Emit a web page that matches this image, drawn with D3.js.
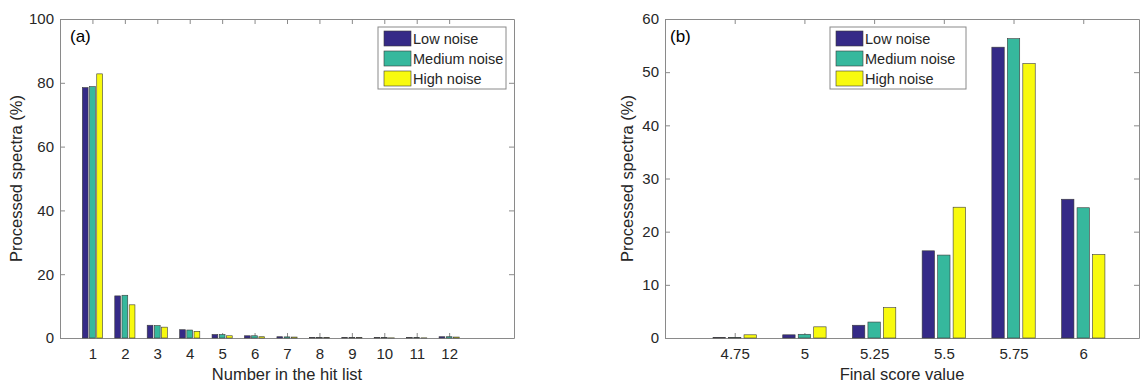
<!DOCTYPE html>
<html>
<head>
<meta charset="utf-8">
<script src="https://cdn.jsdelivr.net/npm/d3@7"></script>
<style>
  body { margin: 0; background: #fff; }
  svg { font-family: "Liberation Sans", Arial, sans-serif; }
</style>
</head>
<body>
<svg id="chart" width="1145" height="383"></svg>
<script>
// series names + colours
const seriesNames = ["Low noise", "Medium noise", "High noise"];
const seriesColors = ["#352A87", "#36B89D", "#F8FA0E"];

// panel (a): position in the hit list
const hitRanks = [1, 2, 3, 4, 5, 6, 7, 8, 9, 10, 11, 12];
const hitLow = [78.5, 13.2, 4.0, 2.6, 1.1, 0.7, 0.4, 0.15, 0.1, 0.1, 0.1, 0.4];
const hitMed = [78.8, 13.4, 3.9, 2.5, 1.1, 0.7, 0.35, 0.1, 0.1, 0.1, 0.1, 0.4];
const hitHigh = [82.8, 10.4, 3.4, 2.1, 0.7, 0.4, 0.3, 0.1, 0.1, 0.05, 0.05, 0.3];
const hitYTicks = [0, 20, 40, 60, 80, 100];

// panel (b): final score value
const scoreValues = [4.75, 5, 5.25, 5.5, 5.75, 6];
const scoreLow = [0.1, 0.6, 2.4, 16.4, 54.7, 26.1];
const scoreMed = [0.1, 0.7, 3.0, 15.6, 56.3, 24.5];
const scoreHigh = [0.6, 2.1, 5.7, 24.6, 51.6, 15.7];
const scoreYTicks = [0, 10, 20, 30, 40, 50, 60];

const svg = d3.select("#chart");
const axisColor = "#8a8a8a";
const textColor = "#262626";

function drawPanel(cfg) {
  const g = svg.append("g");

  const x = d3.scaleLinear().domain(cfg.xDomain).range([cfg.left, cfg.right]);
  const y = d3.scaleLinear().domain(cfg.yDomain).range([cfg.bottom, cfg.top]);

  // MATLAB style grouped bars: group = n/(n+1.5) of a category step
  const step = x(cfg.cats[1]) - x(cfg.cats[0]);
  const groupW = step * 3 / 4.5;
  const inner = d3.scaleBand()
    .domain(seriesNames)
    .range([-groupW / 2, groupW / 2])
    .paddingInner(0.2)
    .paddingOuter(0.1);

  // axes, ticks pointing inward
  const bottom = g.append("g")
    .attr("transform", "translate(0," + cfg.bottom + ")")
    .call(d3.axisBottom(x).tickValues(cfg.cats).tickFormat(cfg.fmt).tickSizeInner(-5).tickSizeOuter(0).tickPadding(10));
  const top = g.append("g")
    .attr("transform", "translate(0," + cfg.top + ")")
    .call(d3.axisTop(x).tickValues(cfg.cats).tickFormat("").tickSizeInner(-5).tickSizeOuter(0));
  const leftAx = g.append("g")
    .attr("transform", "translate(" + cfg.left + ",0)")
    .call(d3.axisLeft(y).tickValues(cfg.yTicks).tickSizeInner(-5).tickSizeOuter(0).tickPadding(6));
  const rightAx = g.append("g")
    .attr("transform", "translate(" + cfg.right + ",0)")
    .call(d3.axisRight(y).tickValues(cfg.yTicks).tickFormat("").tickSizeInner(-5).tickSizeOuter(0));

  [bottom, top, leftAx, rightAx].forEach(a => {
    a.selectAll("path, line").attr("stroke", axisColor);
    a.selectAll("text").attr("fill", textColor).style("font-size", "15px").style("font-family", null);
  });

  // bars
  cfg.series.forEach((vals, si) => {
    g.selectAll(null)
      .data(cfg.cats.map((c, i) => ({ c: c, v: vals[i] })))
      .enter()
      .append("rect")
      .attr("x", d => x(d.c) + inner(seriesNames[si]))
      .attr("y", d => y(d.v))
      .attr("width", inner.bandwidth())
      .attr("height", d => y(0) - y(d.v))
      .attr("fill", seriesColors[si])
      .attr("stroke", "#3a3a3a")
      .attr("stroke-width", 0.6);
  });

  // labels
  g.append("text")
    .attr("x", (cfg.left + cfg.right) / 2)
    .attr("y", 380)
    .attr("text-anchor", "middle")
    .attr("fill", textColor)
    .style("font-size", "16.5px")
    .text(cfg.xLabel);

  g.append("text")
    .attr("transform", "translate(" + cfg.yLabelX + "," + (cfg.top + cfg.bottom) / 2 + ") rotate(-90)")
    .attr("text-anchor", "middle")
    .attr("fill", textColor)
    .style("font-size", "16.5px")
    .text("Processed spectra (%)");

  g.append("text")
    .attr("x", cfg.tagX)
    .attr("y", 42)
    .attr("fill", "#000")
    .style("font-size", "17px")
    .text(cfg.tag);

  // legend
  const lg = g.append("g").attr("transform", "translate(" + cfg.legX + "," + cfg.legY + ")");
  lg.append("rect")
    .attr("width", cfg.legW).attr("height", 62)
    .attr("fill", "#fff").attr("stroke", axisColor).attr("stroke-width", 1);
  seriesNames.forEach((name, i) => {
    lg.append("rect")
      .attr("x", 6).attr("y", 4 + i * 20)
      .attr("width", 27).attr("height", 15)
      .attr("fill", seriesColors[i])
      .attr("stroke", "#3a3a3a").attr("stroke-width", 0.6);
    lg.append("text")
      .attr("x", 35).attr("y", 11.5 + i * 20)
      .attr("dy", "0.35em")
      .attr("fill", textColor)
      .style("font-size", "14.5px")
      .text(name);
  });
}

drawPanel({
  left: 60, right: 514, top: 19, bottom: 338,
  xDomain: [0, 14], yDomain: [0, 100],
  cats: hitRanks, yTicks: hitYTicks, fmt: d => d,
  series: [hitLow, hitMed, hitHigh],
  xLabel: "Number in the hit list", yLabelX: 22,
  tag: "(a)", tagX: 70,
  legX: 378, legY: 27, legW: 128
});

drawPanel({
  left: 665, right: 1139, top: 19, bottom: 338,
  xDomain: [4.5, 6.2], yDomain: [0, 60],
  cats: scoreValues, yTicks: scoreYTicks, fmt: d => d,
  series: [scoreLow, scoreMed, scoreHigh],
  xLabel: "Final score value", yLabelX: 633,
  tag: "(b)", tagX: 670,
  legX: 830, legY: 27, legW: 136
});
</script>
</body>
</html>
